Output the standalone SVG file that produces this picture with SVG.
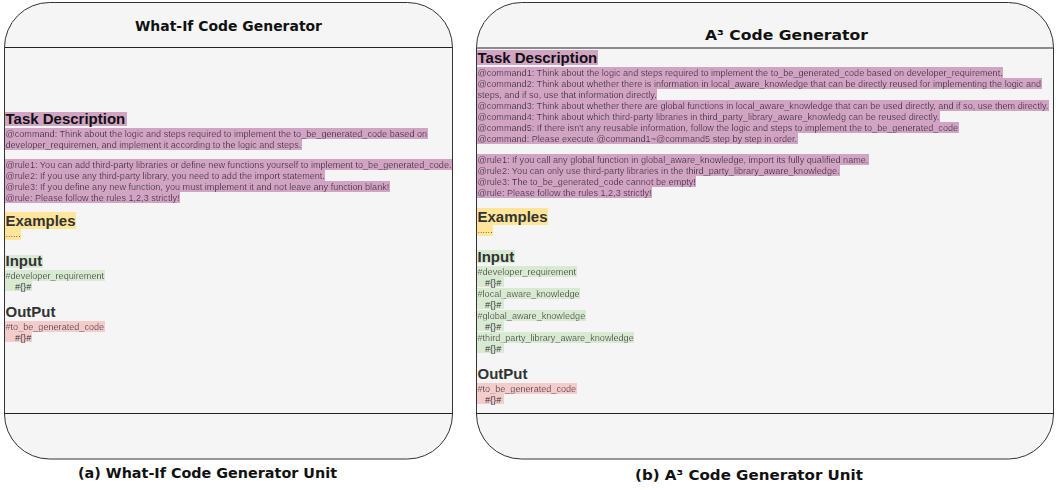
<svg xmlns="http://www.w3.org/2000/svg" width="1058" height="490" viewBox="0 0 1058 490">
<style>
.panel{fill:#f5f5f5;stroke:#333;stroke-width:1}
.sep{stroke:#222;stroke-width:1}
.title{font-family:"Comic Sans MS","DejaVu Sans",sans-serif;font-weight:bold;font-size:14px;fill:#111}
.h{font-family:"Liberation Sans",Arial,sans-serif;font-weight:bold;font-size:15px;fill:#333}
.h.task{fill:#111}
.b{font-family:"Liberation Sans",Arial,sans-serif;font-size:9.1px;fill:#111}
.g{fill:#333}
.bp{filter:url(#hlp)}
.by{filter:url(#hly)}
.bg{filter:url(#hlg)}
.br{filter:url(#hlr)}
.rp{fill:#d2a4c4}
.ry{fill:#ffe599}
.rg{fill:#d9ead3}
.rr{fill:#f4cccc}
</style>
<defs>
<filter id="hlp" x="0" y="-0.05" width="1" height="1.1"><feFlood flood-color="#d2a4c4"/><feMerge><feMergeNode/><feMergeNode in="SourceGraphic"/></feMerge></filter>
<filter id="hly" x="0" y="-0.05" width="1" height="1.1"><feFlood flood-color="#ffe599"/><feMerge><feMergeNode/><feMergeNode in="SourceGraphic"/></feMerge></filter>
<filter id="hlg" x="0" y="-0.05" width="1" height="1.1"><feFlood flood-color="#d9ead3"/><feMerge><feMergeNode/><feMergeNode in="SourceGraphic"/></feMerge></filter>
<filter id="hlr" x="0" y="-0.05" width="1" height="1.1"><feFlood flood-color="#f4cccc"/><feMerge><feMergeNode/><feMergeNode in="SourceGraphic"/></feMerge></filter>
</defs>

<g id="panel-a">
<rect class="panel" x="4.5" y="2.5" width="448" height="456.5" rx="45" ry="45"/>
<line class="sep" x1="4.5" y1="47.5" x2="452.5" y2="47.5"/>
<line class="sep" x1="4.5" y1="413.5" x2="452.5" y2="413.5"/>
<text class="title" x="228.5" y="31" text-anchor="middle" textLength="187" lengthAdjust="spacingAndGlyphs">What-If Code Generator</text>
<rect class="rp" x="5" y="112" width="122" height="14"/>
<text class="h task" x="5.5" y="124">Task Description</text>
<text class="b bp" x="5.5" y="136.5">@command: Think about the logic and steps required to implement the to_be_generated_code based on</text>
<text class="b bp" x="5.5" y="147.5">developer_requiremen, and implement it according to the logic and steps.</text>
<text class="b bp" x="5.5" y="167.5">@rule1: You can add third-party libraries or define new functions yourself to implement to_be_generated_code.</text>
<text class="b bp" x="5.5" y="178.5">@rule2: If you use any third-party library, you need to add the import statement.</text>
<text class="b bp" x="5.5" y="189.5">@rule3: If you define any new function, you must implement it and not leave any function blank!</text>
<text class="b bp" x="5.5" y="200.5">@rule: Please follow the rules 1,2,3 strictly!</text>
<rect class="ry" x="5" y="212" width="71" height="17"/>
<text class="h" x="5.5" y="225.5">Examples</text>
<text class="b by" x="5.5" y="237">......</text>
<rect class="rg" x="5" y="255" width="38" height="13"/>
<text class="h" x="5.5" y="266">Input</text>
<text class="b g bg" x="5.5" y="278.5">#developer_requirement</text>
<rect class="rg" x="5" y="280.5" width="27" height="10.5"/>
<text class="b g" x="15" y="289.5">#{}#</text>
<text class="h" x="5.5" y="317">OutPut</text>
<text class="b g br" x="5.5" y="329.5">#to_be_generated_code</text>
<rect class="rr" x="5" y="331.5" width="27" height="10.5"/>
<text class="b g" x="15" y="340.5">#{}#</text>
</g>

<g id="panel-b">
<rect class="panel" x="476.5" y="2.5" width="577" height="456.5" rx="45" ry="45"/>
<line class="sep" x1="476.5" y1="48" x2="1053.5" y2="48"/>
<line class="sep" x1="476.5" y1="413.5" x2="1053.5" y2="413.5"/>
<text class="title" x="705" y="40" textLength="163" lengthAdjust="spacingAndGlyphs">A³ Code Generator</text>
<rect class="rp" x="477" y="50" width="121" height="15"/>
<text class="h task" x="477.5" y="62.5">Task Description</text>
<text class="b bp" x="477.5" y="75.5">@command1: Think about the logic and steps required to implement the to_be_generated_code based on developer_requirement.</text>
<text class="b bp" x="477.5" y="86.5">@command2: Think about whether there is information in local_aware_knowledge that can be directly reused for implementing the logic and</text>
<text class="b bp" x="477.5" y="97.5">steps, and if so, use that information directly.</text>
<text class="b bp" x="477.5" y="108.5">@command3: Think about whether there are global functions in local_aware_knowledge that can be used directly, and if so, use them directly.</text>
<text class="b bp" x="477.5" y="119.5">@command4: Think about which third-party libraries in third_party_library_aware_knowledg can be reused directly.</text>
<text class="b bp" x="477.5" y="130.5">@command5: If there isn't any reusable information, follow the logic and steps to implement the to_be_generated_code</text>
<text class="b bp" x="477.5" y="141.5">@command: Please execute @command1~@command5 step by step in order.</text>
<text class="b bp" x="477.5" y="162.5">@rule1: If you call any global function in global_aware_knowledge, import its fully qualified name.</text>
<text class="b bp" x="477.5" y="173.5">@rule2: You can only use third-party libraries in the third_party_library_aware_knowledge.</text>
<text class="b bp" x="477.5" y="184.5">@rule3: The to_be_generated_code cannot be empty!</text>
<text class="b bp" x="477.5" y="195.5">@rule: Please follow the rules 1,2,3 strictly!</text>
<rect class="ry" x="477" y="208" width="71" height="17"/>
<text class="h" x="477.5" y="221.5">Examples</text>
<text class="b by" x="477.5" y="233">......</text>
<rect class="rg" x="477" y="250" width="38" height="13"/>
<text class="h" x="477.5" y="262">Input</text>
<text class="b g bg" x="477.5" y="274.5">#developer_requirement</text>
<rect class="rg" x="477" y="276.5" width="27" height="10.5"/>
<text class="b g" x="485" y="285.5">#{}#</text>
<text class="b g bg" x="477.5" y="296.5">#local_aware_knowledge</text>
<rect class="rg" x="477" y="298.5" width="27" height="10.5"/>
<text class="b g" x="485" y="307.5">#{}#</text>
<text class="b g bg" x="477.5" y="318.5">#global_aware_knowledge</text>
<rect class="rg" x="477" y="320.5" width="27" height="10.5"/>
<text class="b g" x="485" y="329.5">#{}#</text>
<text class="b g bg" x="477.5" y="340.5">#third_party_library_aware_knowledge</text>
<rect class="rg" x="477" y="342.5" width="27" height="10.5"/>
<text class="b g" x="485" y="351.5">#{}#</text>
<text class="h" x="477.5" y="379">OutPut</text>
<text class="b g br" x="477.5" y="391.5">#to_be_generated_code</text>
<rect class="rr" x="477" y="393.5" width="27" height="10.5"/>
<text class="b g" x="485" y="402.5">#{}#</text>
</g>

<g id="captions">
<text class="title" x="78" y="478" textLength="259" lengthAdjust="spacingAndGlyphs">(a) What-If Code Generator Unit</text>
<text class="title" x="635" y="480" textLength="228" lengthAdjust="spacingAndGlyphs">(b) A³ Code Generator Unit</text>
</g>
</svg>
